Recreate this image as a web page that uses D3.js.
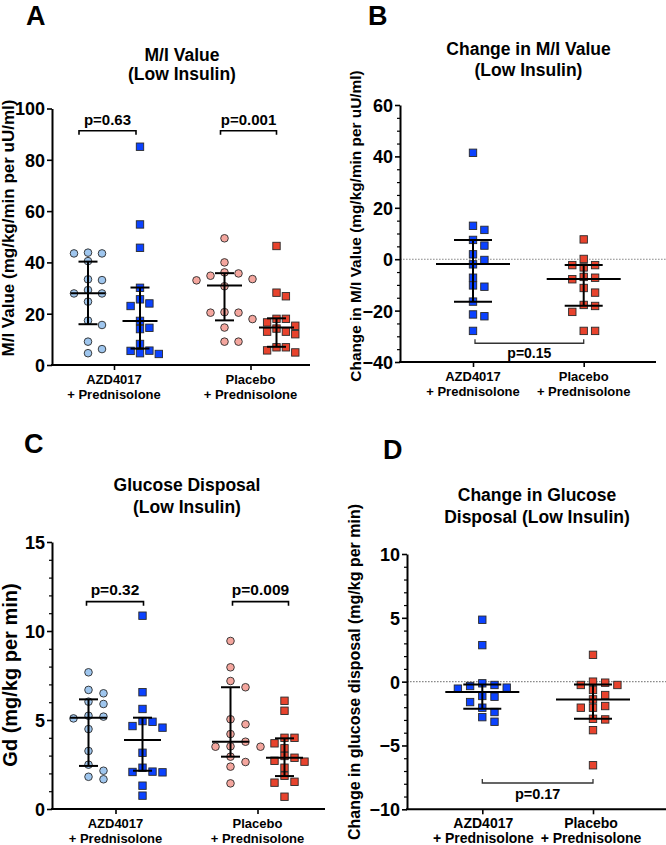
<!DOCTYPE html>
<html><head><meta charset="utf-8">
<script src="https://cdn.jsdelivr.net/npm/d3@7"></script>
<style>
body{margin:0;background:#fff}
svg{display:block}
text{font-family:"Liberation Sans",Arial,Helvetica,sans-serif;font-weight:bold;fill:#000}
</style>
</head><body>
<svg id="chart" width="666" height="845"></svg>
<script>
// ---------------- DATA ----------------
const groupKeys = ["AZD4017", "Placebo"];
const groupLine1 = ["AZD4017", "Placebo"];
const groupLine2 = ["+ Prednisolone", "+ Prednisolone"];

// Panel A: M/I value (low insulin) – order: AZD pre, AZD post, Placebo pre, Placebo post
const miAzdPre  = [43.5, 43.8, 43.5, 40.5, 33.1, 33.4, 29.2, 27.9, 27.9, 24.7, 17.3, 15.6, 9.1, 6.2, 4.6];
const miAzdPost = [85.1, 54.8, 45.7, 30.1, 25.6, 24.0, 23.0, 17.2, 14.5, 14.0, 8.2, 5.5, 5.6, 4.6, 4.3];
const miPlbPre  = [49.4, 40.0, 35.7, 36.1, 34.8, 33.5, 33.0, 30.7, 20.6, 20.4, 20.4, 17.9, 14.6, 9.1, 9.1];
const miPlbPost = [46.4, 28.2, 26.8, 18.0, 18.0, 16.6, 15.3, 14.2, 13.0, 13.0, 12.0, 6.9, 6.9, 5.7, 4.9];
const miMedian = [28.0, 17.2, 31.0, 14.6];
const miQ1     = [15.9, 6.4, 17.4, 7.1];
const miQ3     = [40.3, 30.2, 35.8, 18.2];
const miTicks  = [0, 20, 40, 60, 80, 100];
const miP      = ["p=0.63", "p=0.001"];

// Panel B: change in M/I value
const dMiAzd = [41.4, 13.0, 11.4, 7.5, 5.3, 1.9, -0.3, -2.0, -7.2, -10.2, -10.7, -16.5, -21.5, -22.2, -27.9];
const dMiPlb = [7.7, 0.1, -2.3, -2.3, -3.2, -6.9, -7.2, -7.8, -11.2, -13.0, -17.8, -18.2, -20.5, -27.9, -27.9];
const dMiMedian = [-1.9, -7.7];
const dMiQ1     = [-16.6, -18.1];
const dMiQ3     = [7.5, -2.3];
const dMiTicks  = [-40, -20, 0, 20, 40, 60];
const dMiP      = "p=0.15";

// Panel C: glucose disposal
const gdAzdPre  = [7.68, 6.69, 6.5, 6.03, 5.9, 5.24, 5.19, 5.09, 4.49, 3.26, 2.49, 2.15, 1.81, 1.67];
const gdAzdPost = [10.86, 6.56, 5.62, 4.94, 4.9, 4.66, 4.57, 3.16, 2.32, 2.1, 2.08, 2.06, 1.31, 0.75];
const gdPlbPre  = [9.44, 7.96, 7.19, 6.84, 5.04, 4.76, 4.21, 3.78, 3.5, 3.5, 3.52, 2.94, 2.64, 2.38, 1.44];
const gdPlbPost = [6.08, 5.52, 4.0, 4.0, 3.69, 3.41, 2.98, 2.88, 2.71, 2.66, 2.32, 1.87, 1.53, 1.48, 0.69];
const gdMedian = [5.13, 3.88, 3.78, 2.88];
const gdQ1     = [2.42, 2.15, 2.94, 1.85];
const gdQ3     = [6.16, 5.13, 6.84, 3.97];
const gdTicks  = [0, 5, 10, 15];
const gdP      = ["p=0.32", "p=0.009"];

// Panel D: change in glucose disposal
const dGdAzd = [4.85, 2.86, -0.13, -0.26, -0.34, -0.47, -0.55, -1.12, -1.18, -1.6, -2.04, -2.38, -2.78, -3.14];
const dGdPlb = [2.1, 0.0, -0.08, -0.26, -0.26, -0.65, -1.05, -1.39, -1.91, -2.04, -2.04, -2.91, -2.96, -3.8, -6.55];
const dGdMedian = [-0.81, -1.39];
const dGdQ1     = [-2.12, -2.91];
const dGdQ3     = [-0.22, -0.22];
const dGdTicks  = [-10, -5, 0, 5, 10];
const dGdP      = "p=0.17";

// ---------------- STYLES ----------------
const COL = {
  azdPre:  "#9fc6ee",
  azdPost: "#0b42ff",
  plbPre:  "#f4a69e",
  plbPost: "#e8432d",
  stroke:  "#2a2a2a"
};
const FONT = '"Liberation Sans",Arial,Helvetica,sans-serif';
const svg = d3.select("#chart");

function swarm(vals, y, cx, o) {
  const order = d3.range(vals.length).sort((a, b) => vals[b] - vals[a]);
  const placed = [];
  const out = new Array(vals.length);
  for (const i of order) {
    const py = y(vals[i]);
    for (let k = 0; k < 60; k++) {
      const m = k === 0 ? 0 : (k % 2 ? Math.ceil(k / 2) : -k / 2);
      const px = cx + m * o.step;
      if (!placed.some(q => Math.abs(q.x - px) < o.dx && Math.abs(q.y - py) < o.dy)) {
        placed.push({x: px, y: py}); out[i] = {x: px, y: py, v: vals[i]}; break;
      }
    }
  }
  return out;
}

function panel(p) {
  const g = svg.append("g");
  const y = d3.scaleLinear().domain(p.yDomain).range(p.yRange);
  const xg = d3.scalePoint().domain(groupKeys).range(p.groupRange);
  const y0 = y(p.yDomain[0]);

  if (p.zeroLine) {
    g.append("line").attr("x1", p.axisX).attr("x2", 666).attr("y1", y(0)).attr("y2", y(0))
      .attr("stroke", "#8a8a8a").attr("stroke-width", 1.1).attr("stroke-dasharray", "1.6,1.4");
  }

  if (p.minor) {
    const mg = g.append("g").attr("transform", `translate(${p.axisX},0)`)
      .call(d3.axisLeft(y).tickValues(p.minor).tickSize(3).tickFormat("").tickSizeOuter(0));
    mg.select(".domain").remove();
    mg.selectAll(".tick line").attr("stroke-width", 1.2);
  }
  const ya = g.append("g").attr("transform", `translate(${p.axisX},0)`)
    .call(d3.axisLeft(y).tickValues(p.ticks).tickSize(5).tickPadding(2).tickSizeOuter(0));
  ya.attr("font-family", FONT).attr("font-size", p.tickFont).attr("font-weight", "bold");
  ya.select(".domain").attr("stroke-width", 2);
  ya.selectAll(".tick line").attr("stroke-width", 1.6);
  ya.selectAll(".tick text").attr("fill", "#000").attr("dy", "0.36em");

  g.append("line").attr("x1", p.xLine[0]).attr("x2", p.xLine[1]).attr("y1", y0).attr("y2", y0)
    .attr("stroke", "#000").attr("stroke-width", 2);
  const xa = g.append("g").attr("transform", `translate(0,${y0})`)
    .call(d3.axisBottom(xg).tickSize(5).tickFormat("").tickSizeOuter(0));
  xa.select(".domain").remove();
  xa.selectAll(".tick line").attr("stroke-width", 1.6);
  groupKeys.forEach((k, i) => {
    const cx = xg(k) + (p.labelShift ? p.labelShift[i] : 0);
    g.append("text").attr("x", cx).attr("y", y0 + 19).attr("text-anchor", "middle")
      .attr("font-size", p.xFont).text(groupLine1[i]);
    g.append("text").attr("x", cx).attr("y", y0 + 34).attr("text-anchor", "middle")
      .attr("font-size", p.xFont).text(groupLine2[i]);
  });

  p.series.forEach(s => {
    const cx = xg(s.group) + s.off;
    const pts = swarm(s.values, y, cx, s.swarm);
    if (s.shape === "circle") {
      g.append("g").selectAll("circle").data(pts).join("circle")
        .attr("cx", d => d.x).attr("cy", d => d.y).attr("r", 3.8)
        .attr("fill", s.fill).attr("stroke", COL.stroke).attr("stroke-width", 0.9);
    } else {
      const h = 3.7;
      g.append("g").selectAll("rect").data(pts).join("rect")
        .attr("x", d => d.x - h).attr("y", d => d.y - h).attr("width", 2 * h).attr("height", 2 * h)
        .attr("fill", s.fill).attr("stroke", COL.stroke).attr("stroke-width", 0.9);
    }
  });

  p.series.forEach((s, i) => {
    const cx = xg(s.group) + s.off;
    const eg = g.append("g").attr("stroke", "#000").attr("stroke-width", 2);
    eg.append("line").attr("x1", cx).attr("x2", cx).attr("y1", y(p.q1[i])).attr("y2", y(p.q3[i]));
    [p.q1[i], p.q3[i]].forEach(v => eg.append("line").attr("x1", cx - p.capW / 2).attr("x2", cx + p.capW / 2)
      .attr("y1", y(v)).attr("y2", y(v)));
    eg.append("line").attr("x1", cx - p.medW / 2).attr("x2", cx + p.medW / 2)
      .attr("y1", y(p.median[i])).attr("y2", y(p.median[i]));
  });

  p.brackets.forEach(b => {
    const by = y(b.at);
    const x1 = b.x1(xg), x2 = b.x2(xg);
    const dir = b.down ? 1 : -1;
    g.append("path").attr("fill", "none").attr("stroke", b.color || "#000").attr("stroke-width", b.w || 1.6)
      .attr("d", `M${x1},${by + dir * 4}V${by}H${x2}V${by + dir * 4}`);
    g.append("text").attr("x", (x1 + x2) / 2 + (b.tShift || 0)).attr("y", by + b.textDy)
      .attr("text-anchor", "middle").attr("font-size", b.font).text(b.label);
  });

  p.title.forEach((t, i) => g.append("text").attr("x", p.titleX).attr("y", p.titleY[i])
    .attr("text-anchor", "middle").attr("font-size", 17.5).text(t));
  g.append("text").attr("transform", `translate(${p.yTitleX},${p.yTitleY}) rotate(-90)`)
    .attr("text-anchor", "middle").attr("font-size", p.yTitleFont).text(p.yTitle);
  g.append("text").attr("x", p.letter[1]).attr("y", p.letter[2]).attr("font-size", 27).text(p.letter[0]);
}

const sw = (step, dx, dy) => ({step, dx, dy});

// Panel A
panel({
  yDomain: [0, 100], yRange: [365, 108.5], axisX: 52, xLine: [51, 310], groupRange: [114, 250.5],
  ticks: miTicks, minor: null, tickFont: 18, xFont: 13,
  series: [
    {values: miAzdPre,  group: "AZD4017", off: -26, shape: "circle", fill: COL.azdPre,  swarm: sw(7, 13, 8)},
    {values: miAzdPost, group: "AZD4017", off: 26,  shape: "square", fill: COL.azdPost, swarm: sw(4.7, 9, 7.5)},
    {values: miPlbPre,  group: "Placebo", off: -26, shape: "circle", fill: COL.plbPre,  swarm: sw(7, 13, 8)},
    {values: miPlbPost, group: "Placebo", off: 26,  shape: "square", fill: COL.plbPost, swarm: sw(4.7, 9, 7.5)}
  ],
  median: miMedian, q1: miQ1, q3: miQ3, capW: 19, medW: 35,
  brackets: [
    {at: 91.3, x1: xg => xg("AZD4017") - 35, x2: xg => xg("AZD4017") + 22, down: true, label: miP[0], textDy: -6, font: 15},
    {at: 91.3, x1: xg => xg("Placebo") - 30, x2: xg => xg("Placebo") + 26, down: true, label: miP[1], textDy: -6, font: 15}
  ],
  title: ["M/I Value", "(Low Insulin)"], titleX: 182, titleY: [61, 80],
  yTitle: "M/I Value (mg/kg/min per uU/ml)", yTitleX: 14, yTitleY: 228, yTitleFont: 17,
  letter: ["A", 26, 25]
});

// Panel B
panel({
  yDomain: [-40, 60], yRange: [362, 105], axisX: 400, xLine: [399, 656], groupRange: [473, 583.7],
  ticks: dMiTicks, minor: d3.range(-40, 61, 5).filter(v => v % 20 !== 0), tickFont: 18, xFont: 13,
  zeroLine: true,
  series: [
    {values: dMiAzd, group: "AZD4017", off: 0, shape: "square", fill: COL.azdPost, swarm: sw(5.7, 9, 7)},
    {values: dMiPlb, group: "Placebo", off: 0, shape: "square", fill: COL.plbPost, swarm: sw(5.7, 9, 7)}
  ],
  median: dMiMedian, q1: dMiQ1, q3: dMiQ3, capW: 38, medW: 74,
  brackets: [
    {at: -32.7, x1: xg => xg("AZD4017") + 2, x2: xg => xg("Placebo"), down: false, label: dMiP, textDy: 15, font: 14, color: "#333", w: 1.3}
  ],
  title: ["Change in M/I Value", "(Low Insulin)"], titleX: 528.5, titleY: [55, 76],
  yTitle: "Change in M/I Value (mg/kg/min per uU/ml)", yTitleX: 361, yTitleY: 226, yTitleFont: 15.4,
  letter: ["B", 368, 25]
});

// Panel C
panel({
  yDomain: [0, 15], yRange: [809, 542], axisX: 52, xLine: [51, 325], groupRange: [115.5, 257.5],
  ticks: gdTicks, minor: d3.range(0, 16, 1).filter(v => v % 5 !== 0), tickFont: 18, xFont: 13,
  series: [
    {values: gdAzdPre,  group: "AZD4017", off: -27, shape: "circle", fill: COL.azdPre,  swarm: sw(7.5, 13, 8)},
    {values: gdAzdPost, group: "AZD4017", off: 27,  shape: "square", fill: COL.azdPost, swarm: sw(5, 9.5, 7.5)},
    {values: gdPlbPre,  group: "Placebo", off: -27, shape: "circle", fill: COL.plbPre,  swarm: sw(7.5, 13, 8)},
    {values: gdPlbPost, group: "Placebo", off: 27,  shape: "square", fill: COL.plbPost, swarm: sw(5, 9.5, 7.5)}
  ],
  median: gdMedian, q1: gdQ1, q3: gdQ3, capW: 19, medW: 37,
  brackets: [
    {at: 11.65, x1: xg => xg("AZD4017") - 29, x2: xg => xg("AZD4017") + 28, down: true, label: gdP[0], textDy: -7, font: 15.5},
    {at: 11.65, x1: xg => xg("Placebo") - 25, x2: xg => xg("Placebo") + 31, down: true, label: gdP[1], textDy: -7, font: 15.5}
  ],
  title: ["Glucose Disposal", "(Low Insulin)"], titleX: 187, titleY: [491, 513],
  yTitle: "Gd (mg/kg per min)", yTitleX: 17, yTitleY: 675, yTitleFont: 20,
  letter: ["C", 24, 453]
});

// Panel D
panel({
  yDomain: [-10, 10], yRange: [809.3, 554], axisX: 407, xLine: [406, 666], groupRange: [482.3, 593],
  ticks: dGdTicks, minor: d3.range(-10, 11, 1).filter(v => v % 5 !== 0), tickFont: 18, xFont: 14,
  zeroLine: true, labelShift: [1, -2],
  series: [
    {values: dGdAzd, group: "AZD4017", off: 0, shape: "square", fill: COL.azdPost, swarm: sw(6.1, 10, 7)},
    {values: dGdPlb, group: "Placebo", off: 0, shape: "square", fill: COL.plbPost, swarm: sw(6.1, 10, 7)}
  ],
  median: dGdMedian, q1: dGdQ1, q3: dGdQ3, capW: 38, medW: 74,
  brackets: [
    {at: -7.94, x1: xg => xg("AZD4017"), x2: xg => xg("Placebo"), down: false, label: dGdP, textDy: 16, font: 14.5, color: "#333", w: 1.3}
  ],
  title: ["Change in Glucose", "Disposal (Low Insulin)"], titleX: 537, titleY: [501, 523],
  yTitle: "Change in glucose disposal (mg/kg per min)", yTitleX: 360, yTitleY: 672, yTitleFont: 16,
  letter: ["D", 383, 459]
});
</script>
</body></html>
